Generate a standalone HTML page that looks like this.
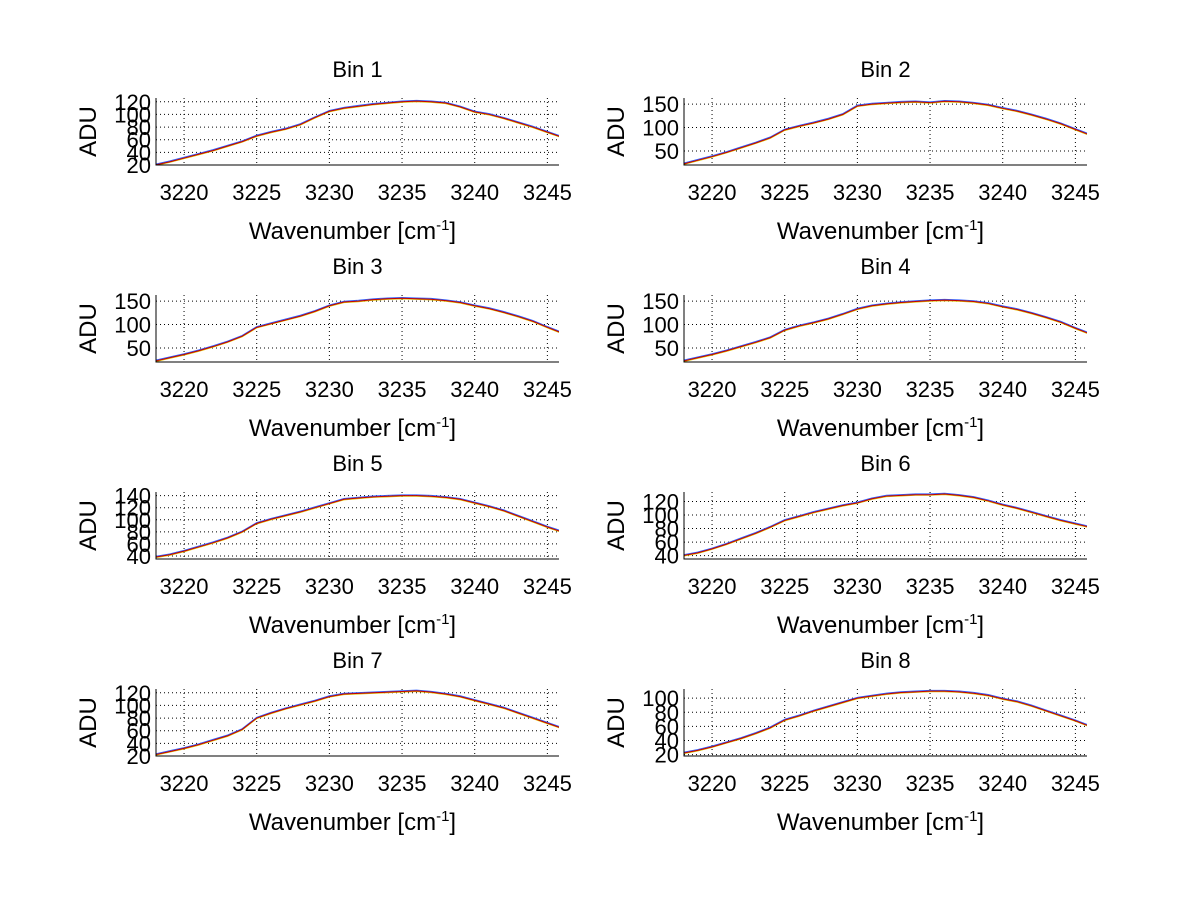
<!DOCTYPE html>
<html><head><meta charset="utf-8"><style>
body{margin:0;background:#fff;}
svg{display:block;font-family:"Liberation Sans",sans-serif;}
</style></head><body>
<svg id="fig" width="1200" height="901"></svg>
<script>
const xs=[3218,3219,3220,3221,3222,3223,3224,3225,3226,3227,3228,3229,3230,3231,3232,3233,3234,3235,3236,3237,3238,3239,3240,3241,3242,3243,3244,3245,3246];
const xTicks=[3220,3225,3230,3235,3240,3245];
const bin1=[20,25,31,37,43,50,57,66,72,77,84,95,105,110,113,116,118,120,121,120,118,112,104,100,94,87,80,72,64];
const bin2=[22,30,38,47,57,67,78,95,103,110,118,128,146,150,152,154,155,153,156,155,152,148,141,135,127,118,108,96,84];
const bin3=[22,29,36,44,53,63,75,94,102,110,118,128,140,148,150,153,155,156,155,154,151,147,140,134,126,117,107,94,82];
const bin4=[22,29,36,44,53,62,72,88,97,104,112,122,133,140,144,147,149,151,152,151,149,145,138,132,124,115,105,92,80];
const bin5=[38,42,48,55,62,70,80,94,101,107,113,120,127,134,136,138,139,140,140,139,137,134,128,122,115,106,97,88,80];
const bin6=[40,44,50,57,65,73,82,92,98,104,109,114,118,124,128,129,130,130,131,129,126,121,115,110,104,98,92,87,82];
const bin7=[22,27,32,38,45,52,62,80,88,95,101,107,114,118,119,120,121,122,123,121,118,114,108,102,96,88,80,72,64];
const bin8=[22,26,31,37,43,50,58,69,75,82,88,94,100,103,106,108,109,110,110,109,107,104,99,95,89,82,75,68,60];
const binData=[bin1,bin2,bin3,bin4,bin5,bin6,bin7,bin8];
const yMin=[20,20,20,20,35,35,20,18];
const yMax=[126,163,163,163,146,134,126,113];
const yTicks=[[20,40,60,80,100,120],[50,100,150],[50,100,150],[50,100,150],[40,60,80,100,120,140],[40,60,80,100,120],[20,40,60,80,100,120],[20,40,60,80,100]];
const xLim=[3218.07,3245.8];
const NS="http://www.w3.org/2000/svg";
const svg=document.getElementById('fig');
function mk(tag,attrs,parent){const e=document.createElementNS(NS,tag);for(const k in attrs)e.setAttribute(k,attrs[k]);(parent||svg).appendChild(e);return e;}
const cols=[156,684], W=403, rowsTop=[98,295,492,689], H=67;
const defs=mk('defs',{});
binData.forEach((vals,i)=>{
  const L=cols[i%2], T=rowsTop[Math.floor(i/2)], B=T+H, R=L+W;
  const sx=v=>L+(v-xLim[0])/(xLim[1]-xLim[0])*W;
  const sy=v=>B-(v-yMin[i])/(yMax[i]-yMin[i])*H;
  const g=mk('g',{});
  
  
  const cp=mk('clipPath',{id:'c'+i},defs);mk('rect',{x:L,y:T,width:W,height:H},cp);
  xTicks.forEach(t=>{const l=mk('line',{x1:sx(t),x2:sx(t),y1:T,y2:B,stroke:'#000','stroke-width':1,'stroke-dasharray':'1,3'},g);
    });
  yTicks[i].forEach(t=>{const l=mk('line',{x1:L,x2:R,y1:sy(t),y2:sy(t),stroke:'#000','stroke-width':1,'stroke-dasharray':'1,3'},g);
    });
  const cg=mk('g',{'clip-path':'url(#c'+i+')'},g);
  [['#3060ff',-0.8],['#e0c000',0.6],['#c00000',0]].forEach(([c,off])=>{
    const p=mk('polyline',{points:xs.map((x,j)=>sx(x)+','+(sy(vals[j])+off)).join(' '),fill:'none',stroke:c,'stroke-width':1},cg);
    
  });
  const ax=mk('path',{d:`M${L} ${T} V${B} H${R}`,fill:'none',stroke:'#000','stroke-width':1},g);
  
  xTicks.forEach(t=>{
    const tx=mk('text',{x:sx(t),y:B+35,'font-size':22,'text-anchor':'middle'},g);tx.textContent=t;
    
  });
  yTicks[i].forEach(t=>{
    const ty=mk('text',{x:L-5,y:sy(t)+8,'font-size':22,'text-anchor':'end'},g);ty.textContent=t;
    
  });
  const tt=mk('text',{x:L+W/2,y:T-21,'font-size':22,'text-anchor':'middle'},g);tt.textContent='Bin '+(i+1);
  
  const xl=mk('text',{x:L+W/2-5,y:B+74,'font-size':24,'text-anchor':'middle'},g);
  xl.innerHTML='Wavenumber [cm<tspan dy="-9" font-size="15">-1</tspan><tspan dy="9">]</tspan>';
  
  const yl=mk('text',{x:0,y:0,'font-size':24,'text-anchor':'middle',transform:`translate(${L-60},${T+H/2}) rotate(-90)`},g);yl.textContent='ADU';
  
});
</script>
</body></html>
